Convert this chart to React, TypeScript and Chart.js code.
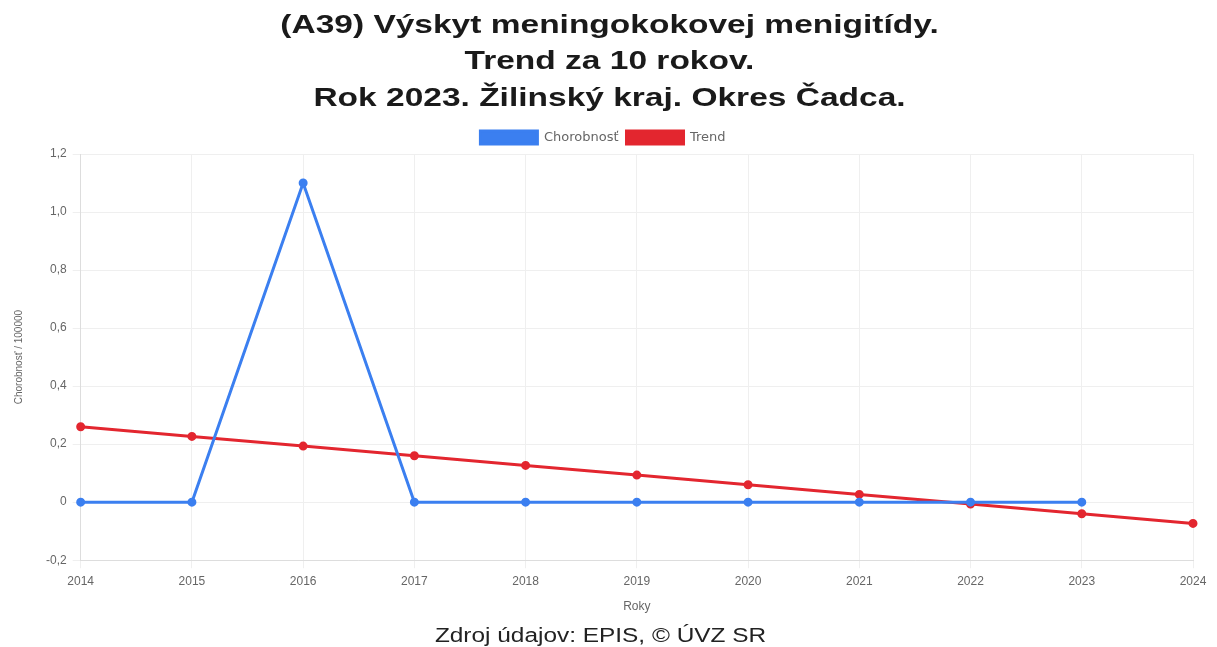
import React, { useEffect, useRef } from "react";
import { Chart, registerables } from "chart.js";

Chart.register(...registerables);

const years = ["2014", "2015", "2016", "2017", "2018", "2019", "2020", "2021", "2022", "2023", "2024"];
const morbidity = [0, 0, 1.1, 0, 0, 0, 0, 0, 0, 0];
const trend = [0.26, 0.2267, 0.1933, 0.16, 0.1267, 0.0933, 0.06, 0.0267, -0.0067, -0.04, -0.0733];
const titleLines = [
  "(A39) Výskyt meningokokovej menigitídy.",
  "Trend za 10 rokov.",
  "Rok 2023. Žilinský kraj. Okres Čadca.",
];
const footerText = "Zdroj údajov: EPIS, © ÚVZ SR";

const FONT = "'Liberation Sans', Arial, sans-serif";

const stretchedText = {
  id: "stretchedText",
  afterDraw(chart: any) {
    const ctx = chart.ctx as CanvasRenderingContext2D;
    const cx = chart.width / 2;
    ctx.save();
    ctx.textAlign = "center";
    ctx.textBaseline = "middle";
    ctx.fillStyle = "#1a1a1a";
    ctx.font = `bold 25px ${FONT}`;
    const ys = [26, 62, 99];
    titleLines.forEach((line, i) => {
      ctx.save();
      ctx.translate(cx + 1, ys[i]);
      ctx.scale(1.34, 1);
      ctx.fillText(line, 0, 0);
      ctx.restore();
    });
    ctx.font = `20px ${FONT}`;
    ctx.fillStyle = "#222";
    ctx.save();
    ctx.translate(cx - 8, 636);
    ctx.scale(1.22, 1);
    ctx.fillText(footerText, 0, 0);
    ctx.restore();
    ctx.restore();
  },
};

export default function App() {
  const ref = useRef<HTMLCanvasElement>(null);
  useEffect(() => {
    document.body.style.margin = "0";
    const ctx = ref.current!;
    const chart = new Chart(ctx, {
      type: "line",
      data: {
        labels: years,
        datasets: [
          {
            label: "Chorobnosť",
            data: morbidity,
            borderColor: "#3b7ff0",
            backgroundColor: "#3b7ff0",
            borderWidth: 3,
            pointRadius: 3,
            tension: 0,
          },
          {
            label: "Trend",
            data: trend,
            borderColor: "#e3262f",
            backgroundColor: "#e3262f",
            borderWidth: 3,
            pointRadius: 3,
            tension: 0,
          },
        ],
      },
      plugins: [stretchedText],
      options: {
        responsive: false,
        animation: false,
        layout: { padding: { left: 13, right: 24, top: 123, bottom: 33 } },
        plugins: {
          title: { display: false },
          legend: {
            labels: {
              boxWidth: 57,
              boxHeight: 13,
              color: "#666",
              font: { family: "'DejaVu Sans', sans-serif", size: 13 },
              padding: 8,
            },
          },
          tooltip: { enabled: false },
        },
        scales: {
          x: {
            grid: { color: "#efefef" },
            border: { color: "#ddd" },
            ticks: { color: "#666", padding: 6, font: { family: FONT, size: 12 }, maxRotation: 0 },
            title: {
              display: true,
              text: "Roky",
              color: "#666",
              font: { family: FONT, size: 12 },
              padding: { top: 5, bottom: 0 },
            },
          },
          y: {
            min: -0.2,
            max: 1.2,
            grid: { color: "#efefef" },
            border: { color: "#ddd" },
            ticks: {
              stepSize: 0.2,
              padding: 6,
              color: "#666",
              font: { family: FONT, size: 12 },
              callback: (v: any) => {
                const n = Math.round(Number(v) * 10) / 10;
                return n === 0 ? "0" : n.toFixed(1).replace(".", ",");
              },
            },
            title: {
              display: true,
              text: "Chorobnosť / 100000",
              color: "#666",
              font: { family: FONT, size: 10 },
              padding: { top: 0, bottom: 15 },
            },
          },
        },
      },
    });
    return () => chart.destroy();
  }, []);
  return (
    <div style={{ width: 1217, height: 647 }}>
      <canvas ref={ref} width={1217} height={647} />
    </div>
  );
}
